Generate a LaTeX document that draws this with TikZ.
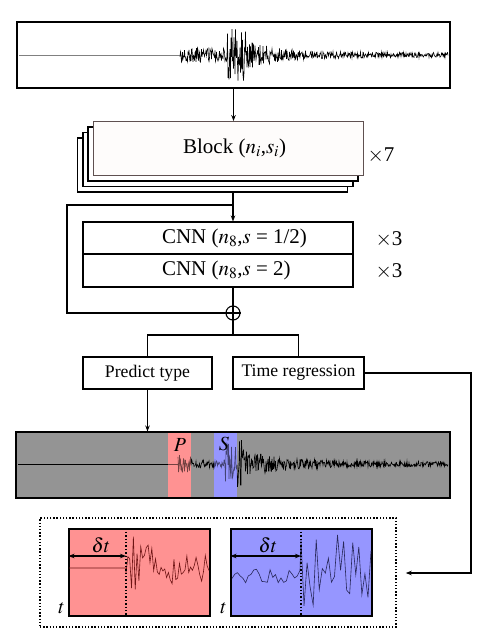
\documentclass[tikz,border=0pt]{standalone}
\usepackage{mathptmx}
\usepackage{fontspec}
\setmainfont{Liberation Serif}
\usepackage{amsmath}
\usetikzlibrary{arrows.meta,positioning,calc}

\definecolor{pband}{RGB}{255,146,146}
\definecolor{sband}{RGB}{150,150,255}
\definecolor{panelgray}{RGB}{148,148,148}
\definecolor{blkedge}{RGB}{95,80,80}
\definecolor{ptrace}{RGB}{110,20,20}
\definecolor{strace}{RGB}{40,40,90}

\begin{document}
\begin{tikzpicture}[x=1pt,y=-1pt,line width=1.1pt,>={Stealth[length=6pt,width=4.5pt]},
    box/.style={draw,rectangle,inner sep=0pt,fill=white},
    bigtxt/.style={font=\fontsize{21}{23}\selectfont,inner sep=0pt},
    midtxt/.style={font=\fontsize{17.7}{19}\selectfont},
    mathtxt/.style={font=\fontsize{20}{22}\selectfont,inner sep=0pt},
    trace/.style={line width=0.6pt},
    declare function={
      ampA(\u)=(\u>179)*(\u<228)*7+(\u>227)*(\u<246)*26+(\u>245)*(2.5+12*exp(-(\u-246)/35));
      ampB(\u)=(\u>177)*(\u<192)*9+(\u>191)*(\u<226)*4+(\u>225)*(\u<242)*24+(\u>241)*(2.5+12*exp(-(\u-242)/40));
      ampR(\u)=12+30*exp(-(\u-126)/25);
    }]
    \pgfmathsetseed{7}
    \useasboundingbox (0,0) rectangle (487,640);

    % input trace
    \node[box,minimum width=433pt,minimum height=66pt] (wave) at (233.5,55) {};
    \draw[trace,gray] (19,55) -- (180,55);
    \draw[trace] plot[domain=180:448,samples=537,variable=\x] (\x,{55+ampA(\x)*rand});
    \draw (wave.north west) rectangle (wave.south east);

    % stacked blocks
    \node[box,minimum width=270pt,minimum height=54pt] (blk3) at (212.5,165) {};
    \node[box,minimum width=270pt,minimum height=54pt] (blk2) at (218,159.5) {};
    \node[box,minimum width=270pt,minimum height=54pt] (blk1) at (223,154) {};
    \node[box,draw=blkedge,fill=white!98!brown,line width=0.9pt,minimum width=270pt,minimum height=54pt] (blk) at (228,148.5) {};
    \node[bigtxt,right=90pt of blk.west] (blklbl) {Block ($n_i$,$s_i$)};
    \node[bigtxt] (rep7) at (381,155) {$\times$7};

    % cnn layers
    \node[box,minimum width=270pt,minimum height=32pt] (cnnA) at (218,238) {};
    \node[box,minimum width=270pt,minimum height=33pt] (cnnB) at (218,270.5) {};
    \node[bigtxt,right=79pt of cnnA.west] (cnnAlbl) {CNN ($n_8$,$s$ = 1/2)};
    \node[bigtxt,right=79pt of cnnB.west] (cnnBlbl) {CNN ($n_8$,$s$ = 2)};
    \node[bigtxt] (rep3a) at (389,239) {$\times$3};
    \node[bigtxt] (rep3b) at (389,271) {$\times$3};

    \node[draw,circle,minimum size=14pt,inner sep=0pt] (plus) at (233,313) {};
    \draw (plus.north) -- (plus.south) (plus.west) -- (plus.east);

    \node[box,midtxt,minimum width=129pt,minimum height=32pt] (pred) at (147.5,373) {Predict type};
    \node[box,midtxt,minimum width=131pt,minimum height=32pt] (treg) at (298.5,373) {Time regression};

    \coordinate (split) at (233,205);
    \coordinate (skip) at (67,205);
    \coordinate (fork) at (233,335);
    \coordinate (turn) at (471,573);

    % picked trace
    \node[box,fill=panelgray,minimum width=434pt,minimum height=66pt] (pick) at (233,465) {};
    \fill[pband] (168,433) rectangle (191,497);
    \fill[sband] (214,433) rectangle (237,497);
    \draw[trace] (18,464) -- (178,464);
    \draw[trace] plot[domain=178:448,samples=541,variable=\x] (\x,{464+ampB(\x)*rand});
    \fill[pband,fill opacity=0.45] (168,433) rectangle (191,497);
    \fill[sband,fill opacity=0.45] (214,433) rectangle (237,497);
    \draw (pick.north west) rectangle (pick.south east);
    \node[mathtxt] (plbl) at (180,445) {$P$};
    \node[mathtxt] (slbl) at (224,444) {$S$};

    % zoomed windows
    \node[draw,dash pattern=on 1.4pt off 1.8pt,line width=1.5pt,minimum width=356pt,minimum height=109pt] (zoom) at (218,572.5) {};
    \node[box,fill=pband,minimum width=141pt,minimum height=87pt] (pwin) at (139.5,572.5) {};
    \node[box,fill=sband,minimum width=141pt,minimum height=87pt] (swin) at (301.5,572.5) {};
    \coordinate (pdot) at (126,556);
    \coordinate (sdot) at (301,556);

    \begin{scope}
      \clip (pwin.south west) rectangle (pwin.north east);
      \draw[trace,ptrace] (pwin.west |- 0,568) -- (126,568)
        -- plot[domain=126:209,samples=46,variable=\x] (\x,{568+ampR(\x)*rand});
    \end{scope}
    \begin{scope}
      \clip (swin.south west) rectangle (swin.north east);
      \draw[trace,strace] plot[domain=232:300,samples=26,variable=\x] (\x,{576+7*rand})
        -- plot[domain=301:371,samples=24,variable=\x] (\x,{572+38*rand});
    \end{scope}
    \draw (pwin.north west) rectangle (pwin.south east);
    \draw (swin.north west) rectangle (swin.south east);
    \draw[dotted,line width=1.4pt] (pdot |- pwin.north) -- (pdot |- pwin.south);
    \draw[dotted,line width=1.4pt] (sdot |- swin.north) -- (sdot |- swin.south);
    \draw[<->] (pwin.west |- pdot) -- (pdot);
    \draw[<->] (swin.west |- sdot) -- (sdot);
    \node[mathtxt] (pdt) at (101,545) {$\delta t$};
    \node[mathtxt] (sdt) at (268,545) {$\delta t$};
    \node[mathtxt,anchor=south east] (pt) at ($(pwin.south west)+(-3,-2)$) {$t$};
    \node[mathtxt,anchor=south east] (st) at ($(swin.south west)+(-3,-2)$) {$t$};

    % connectors
    \draw[->] (wave.south) -- (wave.south |- blk.north);
    \draw (split |- blk3.south) -- (split);
    \draw[->] (split) -- (split |- cnnA.north);
    \draw (split) -- (skip) |- (plus.west);
    \draw (cnnB.south -| plus) -- (plus.north);
    \draw (plus.south) -- (fork);
    \draw (fork) -| (pred.north);
    \draw (fork) -| (treg.north);
    \draw[->] (pred.south) -- (pred.south |- pick.north);
    \draw[->] (treg.east) -| (turn) -- ($(zoom.east |- turn)+(9,0)$);
\end{tikzpicture}
\end{document}
